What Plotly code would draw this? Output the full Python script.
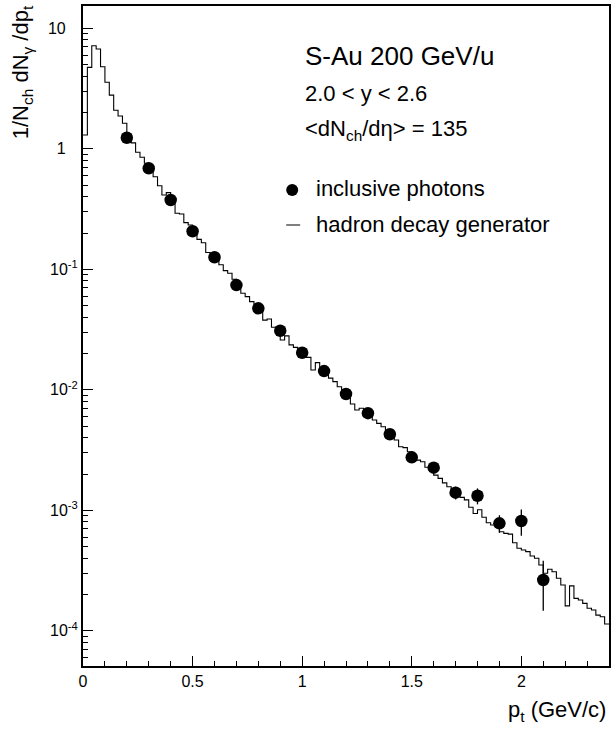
import numpy as np
import plotly.graph_objects as go

# ---- data ----
bin_width = 0.02
hadron_decay = [
    1.30, 4.74, 7.17, 6.73, 4.80, 3.57, 2.79, 2.09, 1.87, 1.63,
    1.30, 1.12, 0.935, 0.85, 0.758, 0.667, 0.587, 0.494, 0.414, 0.433,
    0.353, 0.292, 0.288, 0.244, 0.233, 0.199, 0.177, 0.166, 0.138, 0.136,
    0.119, 0.109, 0.0975, 0.0927, 0.0826, 0.0718, 0.0632, 0.0593, 0.0539, 0.0506,
    0.0445, 0.0379, 0.0387, 0.033, 0.031, 0.0259, 0.028, 0.0236, 0.0225, 0.0207,
    0.0195, 0.0186, 0.0146, 0.0168, 0.0151, 0.0137, 0.0125, 0.0117, 0.0106, 0.00965,
    0.0088, 0.00762, 0.0068, 0.00702, 0.00658, 0.00618, 0.00561, 0.00527, 0.00494, 0.00458,
    0.00414, 0.00383, 0.00337, 0.00331, 0.00306, 0.0027, 0.00261, 0.00253, 0.00228, 0.00216,
    0.00196, 0.00184, 0.00169, 0.00157, 0.00149, 0.00134, 0.00128, 0.00122, 0.00106, 0.00094,
    0.00101, 0.000875, 0.000789, 0.000755, 0.000731, 0.000664, 0.000644, 0.000635, 0.000538, 0.000484,
    0.000469, 0.000454, 0.000418, 0.0004, 0.000352, 0.0003, 0.000324, 0.000309, 0.000273, 0.00024,
    0.000161, 0.000236, 0.000186, 0.00018, 0.000169, 0.000154, 0.000149, 0.000135, 0.000131, 0.000114,
]

photon_pt = [0.2, 0.3, 0.4, 0.5, 0.6, 0.7, 0.8, 0.9, 1.0, 1.1,
             1.2, 1.3, 1.4, 1.5, 1.6, 1.7, 1.8, 1.9, 2.0, 2.1]
photon_yield = [1.236, 0.689, 0.376, 0.207, 0.126, 0.074, 0.0474, 0.0309, 0.0203, 0.0143,
                0.00923, 0.0064, 0.00428, 0.00275, 0.00226, 0.0014, 0.00132, 0.00078, 0.000815, 0.000264]
photon_err = [0.05, 0.03, 0.015, 0.008, 0.005, 0.003, 0.002, 0.0013, 0.0009, 0.0007,
              0.0005, 0.0004, 0.0003, 0.0002, 0.0002, 0.00017, 0.0002, 0.00013, 0.0002, 0.000117]

y_tick_vals = [1e-4, 1e-3, 1e-2, 1e-1, 1, 10]
y_tick_text = ["10<sup>-4</sup>", "10<sup>-3</sup>", "10<sup>-2</sup>", "10<sup>-1</sup>",
               "1\u2007\u2009", "10\u2007\u2009"]

# ---- figure ----
FONT = "Liberation Sans, Arial, sans-serif"
W, H = 613, 730
L, R, T, B = 83, 2, 6, 64
pw, ph = W - L - R, H - T - B


def px(xp):
    return (xp - L) / pw


def py(yp):
    return (H - B - yp) / ph


edges = np.round(np.arange(len(hadron_decay) + 1) * bin_width, 4)
step_y = list(hadron_decay) + [hadron_decay[-1]]

fig = go.Figure()
fig.add_trace(go.Scatter(
    x=edges, y=step_y, mode="lines", line=dict(shape="hv", color="black", width=1.1),
    name="hadron decay generator", showlegend=False, hoverinfo="skip"))
fig.add_trace(go.Scatter(
    x=photon_pt, y=photon_yield, mode="markers",
    marker=dict(symbol="circle", size=12.5, color="black", line=dict(width=0)),
    error_y=dict(type="data", array=photon_err, visible=True, color="black", thickness=1.3, width=0),
    name="inclusive photons", showlegend=False))

fig.update_layout(
    width=W, height=H, margin=dict(l=L, r=R, t=T, b=B),
    paper_bgcolor="white", plot_bgcolor="white",
    font=dict(family=FONT, color="black", size=16),
    showlegend=False,
)
fig.update_xaxes(
    range=[0, 2.4], tick0=0, dtick=0.5, ticks="inside", ticklen=10, tickwidth=1, tickcolor="black",
    minor=dict(dtick=0.1, ticks="inside", ticklen=5, tickwidth=1, tickcolor="black"),
    showline=True, linewidth=2, linecolor="black", mirror=True,
    showgrid=False, zeroline=False, tickfont=dict(size=16, family=FONT),
)
fig.update_yaxes(
    type="log", range=[-4.292, 1.185], tickvals=y_tick_vals, ticktext=y_tick_text,
    ticks="inside", ticklen=10, tickwidth=1, tickcolor="black",
    minor=dict(dtick="D1", ticks="inside", ticklen=5, tickwidth=1, tickcolor="black"),
    showline=True, linewidth=2, linecolor="black", mirror=True,
    showgrid=False, zeroline=False, tickfont=dict(size=16, family=FONT),
)

ann = []
ann.append(dict(text="S-Au 200 GeV/u", x=px(304), y=py(56), xanchor="left", yanchor="middle",
                font=dict(size=26)))
ann.append(dict(text="2.0 < y < 2.6", x=px(304), y=py(93), xanchor="left", yanchor="middle",
                font=dict(size=22)))
ann.append(dict(text="<dN<sub>ch</sub>/dη> = 135", x=px(304), y=py(130), xanchor="left",
                yanchor="middle", font=dict(size=22)))
ann.append(dict(text="inclusive photons", x=px(315), y=py(189), xanchor="left", yanchor="middle",
                font=dict(size=22)))
ann.append(dict(text="hadron decay generator", x=px(315), y=py(224), xanchor="left",
                yanchor="middle", font=dict(size=22)))
ann.append(dict(text="1/N<sub>ch</sub> dN<sub>γ</sub> /dp<sub>t</sub>", textangle=-90,
                x=px(22), y=py(3), xanchor="center", yanchor="top", font=dict(size=22)))
ann.append(dict(text="p<sub>t</sub> (GeV/c)", x=px(610), y=py(711), xanchor="right",
                yanchor="middle", font=dict(size=22)))
for a in ann:
    a.update(xref="paper", yref="paper", showarrow=False)
    a["font"]["family"] = FONT
    a["font"]["color"] = "black"
fig.update_layout(annotations=ann)

fig.add_shape(type="circle", xref="paper", yref="paper", xsizemode="pixel", ysizemode="pixel",
              xanchor=px(293), yanchor=py(190), x0=-6, x1=6, y0=-6, y1=6,
              fillcolor="black", line=dict(width=0))
fig.add_shape(type="line", xref="paper", yref="paper", x0=px(287), x1=px(301), y0=py(225), y1=py(225),
              line=dict(color="black", width=1))

fig.write_html("out.html", config={"displayModeBar": False},
               post_script="document.body.style.margin='0';document.body.style.padding='0';")
